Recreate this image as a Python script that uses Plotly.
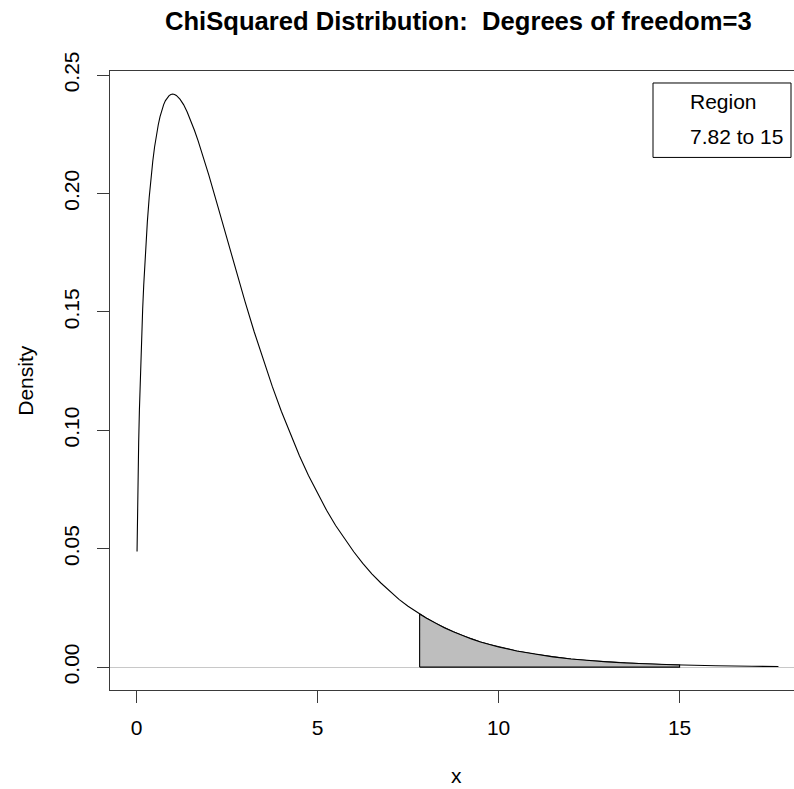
import plotly.graph_objects as go

# Chi-squared density (df = 3)
x_vals = [0.0152, 0.02, 0.03, 0.04, 0.05, 0.06, 0.08, 0.1, 0.12, 0.14, 0.17, 0.2,
          0.25, 0.3, 0.35, 0.4, 0.45, 0.5, 0.55, 0.6, 0.65, 0.7, 0.75, 0.8, 0.85,
          0.9, 0.95, 1.0, 1.05, 1.1, 1.2, 1.3, 1.4, 1.5, 1.6, 1.7, 1.8, 2.0, 2.25,
          2.5, 2.75, 3.0, 3.25, 3.5, 3.75, 4.0, 4.25, 4.5, 4.75, 5.0, 5.25, 5.5,
          5.75, 6.0, 6.25, 6.5, 6.75, 7.0, 7.25, 7.5, 7.82, 8.0, 8.25, 8.5, 8.75,
          9.0, 9.25, 9.5, 9.75, 10.0, 10.5, 11.0, 11.5, 12.0, 12.5, 13.0, 13.5,
          14.0, 14.5, 15.0, 16.0, 17.0, 17.73]
density = [0.0488, 0.0559, 0.0681, 0.0782, 0.0870, 0.0948, 0.1084, 0.1200, 0.1302,
           0.1392, 0.1511, 0.1614, 0.1760, 0.1881, 0.1982, 0.2066, 0.2137, 0.2197,
           0.2247, 0.2289, 0.2324, 0.2352, 0.2375, 0.2392, 0.2405, 0.2413, 0.2418,
           0.2420, 0.2418, 0.2414, 0.2398, 0.2375, 0.2344, 0.2308, 0.2267, 0.2223,
           0.2176, 0.2076, 0.1943, 0.1807, 0.1673, 0.1542, 0.1416, 0.1297, 0.1185,
           0.1080, 0.0982, 0.0892, 0.0809, 0.0732, 0.0662, 0.0598, 0.0540, 0.0487,
           0.0438, 0.0394, 0.0355, 0.0319, 0.0286, 0.0257, 0.0224, 0.0207, 0.0185,
           0.0166, 0.0149, 0.0133, 0.0119, 0.0106, 0.0095, 0.0085, 0.0068, 0.0054,
           0.0043, 0.0034, 0.0027, 0.0022, 0.0017, 0.0014, 0.0011, 0.00086, 0.00054,
           0.00034, 0.00024]

region_lo = 7.82
region_hi = 15
title_text = "ChiSquared Distribution:  Degrees of freedom=3"
legend_lines = ["Region", "7.82 to 15"]
x_ticks = [0, 5, 10, 15]
y_ticks = [0.00, 0.05, 0.10, 0.15, 0.20, 0.25]

FONT = "Liberation Sans"
AX = "#3a3a3a"

reg_x = [xv for xv in x_vals if region_lo <= xv <= region_hi]
reg_y = [yv for xv, yv in zip(x_vals, density) if region_lo <= xv <= region_hi]
poly_x = [region_lo] + reg_x + [region_hi, region_lo]
poly_y = [0] + reg_y + [0, 0]

fig = go.Figure()
fig.add_trace(go.Scatter(x=x_vals, y=density, mode="lines",
                         line=dict(color="black", width=1.1), hoverinfo="skip"))
fig.add_trace(go.Scatter(x=poly_x, y=poly_y, mode="lines", fill="toself",
                         fillcolor="#BEBEBE", line=dict(color="black", width=1.1),
                         hoverinfo="skip"))

W, H = 794, 789
L, R, T, B = 110, 0, 71, 98.5
pw = W - L - R
ph = H - T - B

def px(xp):
    return (xp - L) / pw

def py(yp):
    return (H - B - yp) / ph

fig.update_layout(
    width=W, height=H, showlegend=False,
    margin=dict(l=L, r=R, t=T, b=B, pad=0),
    paper_bgcolor="white", plot_bgcolor="white",
    font=dict(family=FONT, size=21, color="black"),
    xaxis=dict(range=[-0.732, 18.16], tickvals=x_ticks, ticktext=[str(t) for t in x_ticks],
               showgrid=False, zeroline=False, showline=True, mirror=True,
               linecolor=AX, linewidth=1, ticks="outside", ticklen=12,
               tickcolor=AX, tickwidth=1, ticklabelstandoff=7,
               tickfont=dict(size=21, family=FONT)),
    yaxis=dict(range=[-0.00968, 0.2517], tickvals=y_ticks,
               ticktext=["%.2f" % t for t in y_ticks], tickangle=-90,
               showgrid=False, zeroline=True, zerolinecolor="#C8C8C8", zerolinewidth=1,
               showline=True, mirror=False,
               linecolor=AX, linewidth=1, ticks="outside", ticklen=12,
               tickcolor=AX, tickwidth=1, ticklabelstandoff=10,
               tickfont=dict(size=21, family=FONT)),
)

# legend box
fig.add_shape(type="rect", xref="paper", yref="paper",
              x0=px(653), x1=px(791), y0=py(157.5), y1=py(83),
              line=dict(color="black", width=1), fillcolor="white", layer="above")
fig.add_annotation(text=legend_lines[0], xref="paper", yref="paper",
                   x=px(688), y=py(102), xanchor="left", yanchor="middle",
                   showarrow=False, font=dict(size=21, family=FONT))
fig.add_annotation(text=legend_lines[1], xref="paper", yref="paper",
                   x=px(688), y=py(137), xanchor="left", yanchor="middle",
                   showarrow=False, font=dict(size=21, family=FONT))

# titles
fig.add_annotation(text="<b>%s</b>" % title_text, xref="paper", yref="paper",
                   x=px(458), y=py(21), xanchor="center", yanchor="middle",
                   showarrow=False, font=dict(size=25.6, family=FONT))
fig.add_annotation(text="x", xref="paper", yref="paper",
                   x=px(456), y=py(776), xanchor="center", yanchor="middle",
                   showarrow=False, font=dict(size=21, family=FONT))
fig.add_annotation(text="Density", xref="paper", yref="paper",
                   x=px(26), y=py(381), xanchor="center", yanchor="middle",
                   textangle=-90, showarrow=False, font=dict(size=21, family=FONT))

fig.write_html("out.html")
